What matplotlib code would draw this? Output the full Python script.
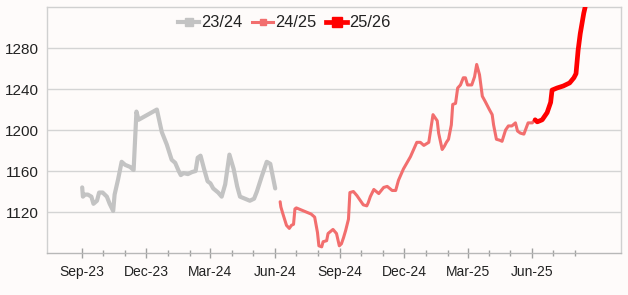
import matplotlib
matplotlib.use("Agg")
from matplotlib import pyplot as plt
import matplotlib.dates as mdates
from matplotlib.lines import Line2D
import pandas as pd
import numpy as np

plt.rcParams['font.family'] = ['Liberation Sans', 'DejaVu Sans']

# season 23/24
dates_2324 = ['2023-09-01', '2023-09-02', '2023-09-05', '2023-09-09', '2023-09-14', '2023-09-17',
              '2023-09-22', '2023-09-25', '2023-09-30', '2023-10-06', '2023-10-10', '2023-10-15',
              '2023-10-17', '2023-10-22', '2023-10-27', '2023-11-01', '2023-11-08', '2023-11-13',
              '2023-11-17', '2023-11-20', '2023-12-16', '2023-12-23', '2023-12-30', '2024-01-06',
              '2024-01-11', '2024-01-16', '2024-01-19', '2024-01-23', '2024-01-29', '2024-02-04',
              '2024-02-09', '2024-02-12', '2024-02-16', '2024-02-21', '2024-02-26', '2024-03-01',
              '2024-03-05', '2024-03-12', '2024-03-17', '2024-03-22', '2024-03-28', '2024-04-03',
              '2024-04-08', '2024-04-12', '2024-04-19', '2024-04-26', '2024-05-02', '2024-05-06',
              '2024-05-13', '2024-05-20', '2024-05-25', '2024-06-01']
vals_2324 = [1144, 1135, 1137, 1137, 1135, 1128,
             1131, 1139, 1139, 1135, 1128, 1121,
             1137, 1152, 1169, 1166, 1164, 1161,
             1218, 1210, 1220, 1198, 1186, 1171,
             1168, 1160, 1156, 1158, 1157, 1159,
             1160, 1173, 1175, 1162, 1150, 1148,
             1143, 1139, 1135, 1147, 1176, 1162,
             1145, 1135, 1133, 1131, 1133, 1140,
             1155, 1169, 1167, 1143]

# season 24/25
dates_2425 = ['2024-06-08', '2024-06-09', '2024-06-12', '2024-06-17', '2024-06-21', '2024-06-24',
              '2024-06-27', '2024-06-29', '2024-07-01', '2024-07-08', '2024-07-22', '2024-07-27',
              '2024-07-31', '2024-08-02', '2024-08-06', '2024-08-08', '2024-08-13', '2024-08-15',
              '2024-08-22', '2024-08-27', '2024-08-31', '2024-09-03', '2024-09-06', '2024-09-09',
              '2024-09-13', '2024-09-15', '2024-09-20', '2024-09-25', '2024-09-30', '2024-10-04',
              '2024-10-09', '2024-10-11', '2024-10-14', '2024-10-19', '2024-10-26', '2024-11-02',
              '2024-11-07', '2024-11-14', '2024-11-19', '2024-11-23', '2024-11-30', '2024-12-10',
              '2024-12-19', '2024-12-24', '2024-12-29', '2025-01-05', '2025-01-11', '2025-01-17',
              '2025-01-19', '2025-01-24', '2025-01-27', '2025-01-30', '2025-02-02', '2025-02-06',
              '2025-02-08', '2025-02-12', '2025-02-15', '2025-02-19', '2025-02-23', '2025-02-26',
              '2025-03-01', '2025-03-07', '2025-03-11', '2025-03-14', '2025-03-18', '2025-03-22',
              '2025-03-26', '2025-04-01', '2025-04-05', '2025-04-07', '2025-04-11', '2025-04-16',
              '2025-04-19', '2025-04-24', '2025-04-28', '2025-05-03', '2025-05-08', '2025-05-11',
              '2025-05-15', '2025-05-20', '2025-05-26', '2025-06-01', '2025-06-03']
vals_2425 = [1130, 1125, 1118, 1107, 1104, 1107,
             1108, 1123, 1124, 1122, 1118, 1115,
             1100, 1087, 1086, 1091, 1092, 1099,
             1103, 1099, 1087, 1089, 1095, 1102,
             1113, 1139, 1140, 1136, 1131, 1127,
             1126, 1129, 1135, 1142, 1138, 1144,
             1145, 1141, 1141, 1151, 1162, 1174,
             1188, 1188, 1185, 1188, 1215, 1209,
             1197, 1181, 1184, 1188, 1191, 1205,
             1225, 1226, 1241, 1244, 1251, 1251,
             1244, 1244, 1252, 1264, 1254, 1233,
             1228, 1220, 1215, 1205, 1191, 1190,
             1189, 1200, 1204, 1204, 1207, 1199,
             1197, 1196, 1207, 1207, 1209]

# season 25/26
dates_2526 = ['2025-06-05', '2025-06-08', '2025-06-15', '2025-06-22', '2025-06-27', '2025-06-29',
              '2025-07-06', '2025-07-15', '2025-07-24', '2025-07-30', '2025-08-02', '2025-08-05',
              '2025-08-08', '2025-08-13', '2025-08-15']
vals_2526 = [1210, 1208, 1210, 1217, 1227, 1239,
             1241, 1243, 1246, 1251, 1255, 1278,
             1294, 1314, 1320]

labels = ['23/24', '24/25', '25/26']
colors = ['#C3C3C3', '#F26E6E', '#FF0000']
widths = [3.0, 2.2, 3.4]

bg = '#FEFBFA'
fig = plt.figure(figsize=(6.28, 2.95), dpi=100, facecolor=bg)
ax = fig.add_axes([0.0748, 0.1424, 0.9142, 0.8336], facecolor=bg)

series = [(dates_2324, vals_2324), (dates_2425, vals_2425), (dates_2526, vals_2526)]
for (d, v), lab, c, w in zip(series, labels, colors, widths):
    ax.plot(pd.to_datetime(d), v, color=c, lw=w, label=lab,
            solid_joinstyle='round', solid_capstyle='round', zorder=3)

ax.set_xlim(pd.Timestamp('2023-07-13'), pd.Timestamp('2025-10-05'))
ax.set_ylim(1080, 1320)
ax.set_yticks([1120, 1160, 1200, 1240, 1280])
ax.yaxis.grid(True, color='#D4D4D4', lw=1.0, zorder=0)

major = pd.date_range('2023-09-01', '2025-06-01', freq='3MS')
minor = [m for m in pd.date_range('2023-09-01', '2025-08-01', freq='MS') if m not in major]
ax.set_xticks(major)
ax.set_xticks(minor, minor=True)
ax.xaxis.set_major_formatter(mdates.DateFormatter('%b-%y'))

ax.tick_params(axis='y', length=0, labelsize=11, pad=6, labelcolor='#222222')
ax.tick_params(axis='x', which='major', direction='inout', length=7, width=1,
               color='#A0A0A0', labelsize=10, pad=5, labelcolor='#222222')
ax.tick_params(axis='x', which='minor', direction='inout', length=4, width=1,
               color='#A0A0A0')

for s in ax.spines.values():
    s.set_color('#D0D0D0')
    s.set_linewidth(1.0)
ax.spines['bottom'].set_color('#B8B8B8')

handles = [Line2D([0], [0], color=c, lw=w, marker='s', markersize=w * 2.0,
                  markeredgecolor=c, markerfacecolor=c) for c, w in zip(colors, widths)]
leg = ax.legend(handles, labels, loc='upper center', bbox_to_anchor=(0.413, 1.0),
                ncol=3, frameon=False, fontsize=11.8, handlelength=1.3,
                handletextpad=0.1, columnspacing=0.6, borderaxespad=0.1)
for t in leg.get_texts():
    t.set_color('#222222')

fig.savefig('out.png', dpi=100, facecolor=bg)
